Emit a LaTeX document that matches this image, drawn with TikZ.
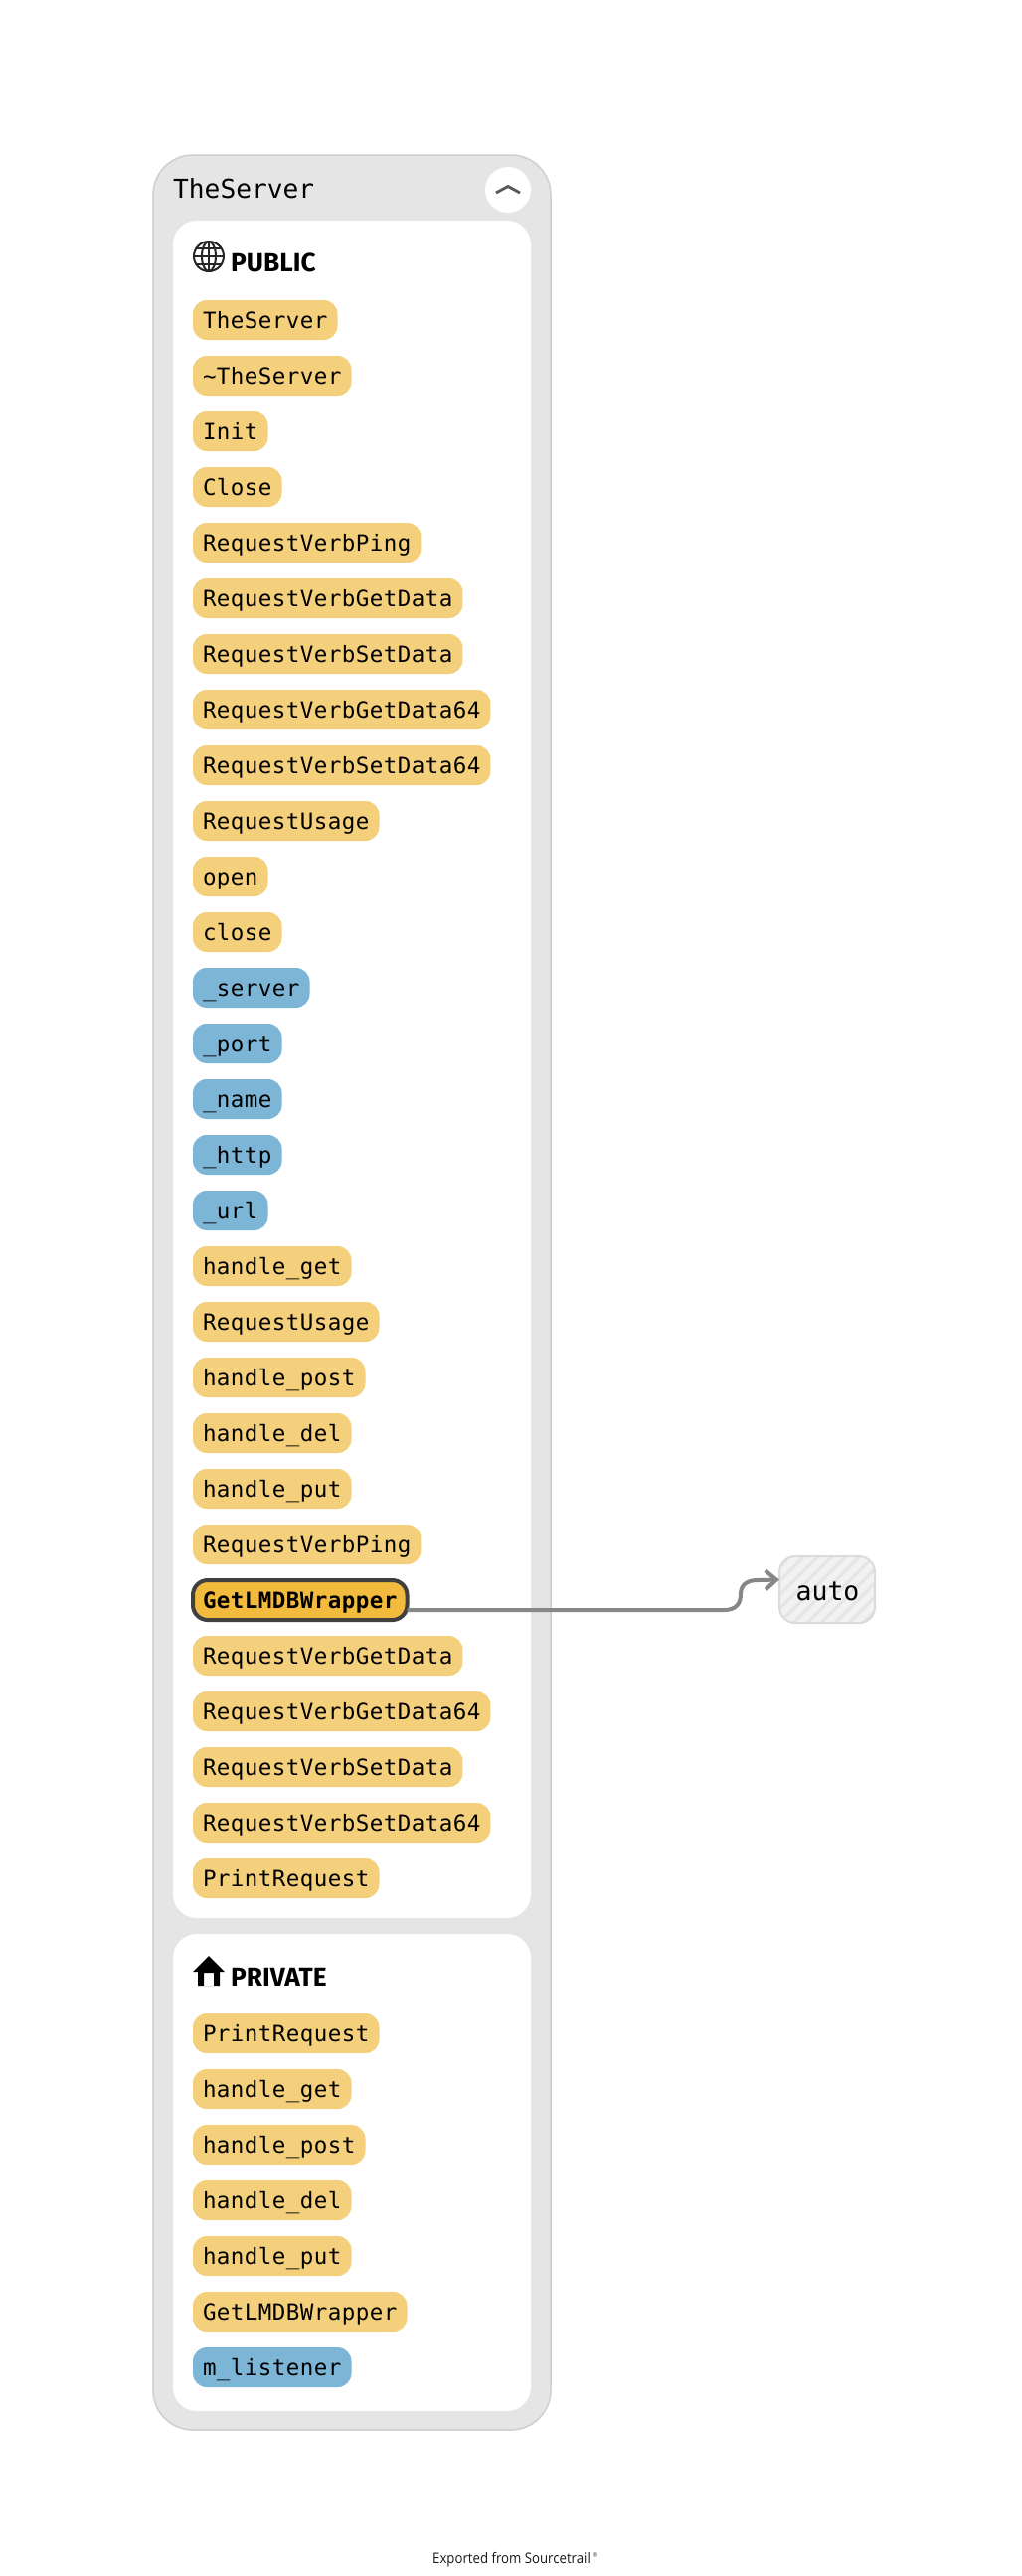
\documentclass[tikz,border=0pt]{standalone}
\usepackage{fontspec}
\usetikzlibrary{arrows.meta}
\setmainfont{Liberation Sans}
\newfontfamily\headfont{Fira Sans}[UprightFont=* Bold]
\newfontfamily\exportfont{Open Sans}[FakeStretch=0.905]
\newfontfamily\regfont{DejaVu Sans}
\newfontfamily\codefont{DejaVu Sans Mono}[LetterSpace=2]
\newfontfamily\codeboldfont{DejaVu Sans Mono}[UprightFont=* Bold,LetterSpace=2]
\newfontfamily\largecodefont{DejaVu Sans Mono}
\definecolor{fnc}{HTML}{F4D07C}
\definecolor{varc}{HTML}{7CB5D6}
\definecolor{selc}{HTML}{F3BB3D}
\definecolor{panel}{HTML}{E5E5E5}
\definecolor{panelb}{HTML}{CFCFCF}
\definecolor{edgec}{HTML}{878787}
\tikzset{
  x=1pt,y=-1pt,
  pillbase/.style={anchor=north west,outer sep=0pt,rounded corners=14pt,inner xsep=10pt,inner ysep=0pt,
    text height=28pt,text depth=12pt,font=\fontsize{22.5}{26}\selectfont\codefont},
  fnpill/.style={pillbase,fill=fnc},
  varpill/.style={pillbase,fill=varc},
  selpill/.style={pillbase,fill=selc,draw=black!75,line width=4pt,rounded corners=15pt,
    font=\fontsize{22.5}{26}\selectfont\codeboldfont},
  heading/.style={anchor=base west,inner sep=0pt,font=\fontsize{26.3}{30}\selectfont\headfont},
  outerbox/.style={fill=panel,draw=panelb,line width=1.5pt,rounded corners=40pt},
  innerbox/.style={fill=white,rounded corners=24pt},
}
\begin{document}
\begin{tikzpicture}
\useasboundingbox (0,0) rectangle (1028,2592);
\fill[white] (0,0) rectangle (1028,2592);
\draw[outerbox] (154,156) rectangle (554,2445);
\fill[innerbox] (174,222) rectangle (534,1930);
\fill[innerbox] (174,1946) rectangle (534,2426);
\node[anchor=base west,inner sep=0pt,font=\fontsize{26.2}{30}\selectfont\largecodefont] (title) at (174,199) {TheServer};
\node[circle,fill=white,minimum size=46pt,inner sep=0pt] (toggle) at (511,191) {};
\draw[line width=2.8pt,black!65] (499,194) -- (511,187.5) -- (523,194);
% globe icon
\begin{scope}[black!85,line width=2pt]
\draw (210,258) circle[radius=15];
\draw (210,258) ellipse[x radius=7,y radius=15];
\draw (195,258) -- (225,258);
\draw (197.5,250) -- (222.5,250);
\draw (197.5,266) -- (222.5,266);
\draw (210,243) -- (210,273);
\end{scope}
\node[heading] (public) at (232,273) {PUBLIC};
% home icon
\fill[black,even odd rule] (210,1968) -- (226,1984) -- (221,1984) -- (221,1998) -- (199,1998) -- (199,1984) -- (194,1984) -- cycle
  (205,1998) rectangle (215,1985);
\node[heading] (private) at (232,1998) {PRIVATE};
% public members
\foreach \lab/\sty [count=\i from 0] in {
  TheServer/fnpill,\textasciitilde TheServer/fnpill,Init/fnpill,Close/fnpill,RequestVerbPing/fnpill,
  RequestVerbGetData/fnpill,RequestVerbSetData/fnpill,RequestVerbGetData64/fnpill,RequestVerbSetData64/fnpill,
  RequestUsage/fnpill,open/fnpill,close/fnpill,\_server/varpill,\_port/varpill,\_name/varpill,\_http/varpill,\_url/varpill,
  handle\_get/fnpill,RequestUsage/fnpill,handle\_post/fnpill,handle\_del/fnpill,handle\_put/fnpill,RequestVerbPing/fnpill,
  GetLMDBWrapper/selpill,RequestVerbGetData/fnpill,RequestVerbGetData64/fnpill,RequestVerbSetData/fnpill,
  RequestVerbSetData64/fnpill,PrintRequest/fnpill}
  {\node[\sty] (pub\i) at (194,{302+56*\i}) {\lab};}
% private members
\foreach \lab/\sty [count=\i from 0] in {
  PrintRequest/fnpill,handle\_get/fnpill,handle\_post/fnpill,handle\_del/fnpill,handle\_put/fnpill,GetLMDBWrapper/fnpill,m\_listener/varpill}
  {\node[\sty] (priv\i) at (194,{2026+56*\i}) {\lab};}
% auto node
\node[anchor=north west,outer sep=0pt,minimum width=96pt,minimum height=67pt,inner sep=0pt,draw=black!14,line width=2pt,rounded corners=16pt,fill=black!5,
  path picture={
    \foreach \k in {-8,...,16}
      {\draw[white!90!black,line width=3pt] ([xshift=\k*14pt]path picture bounding box.south west) -- ++(80pt,80pt);}
  }] (auto) at (784,1566) {};
\node[inner sep=0pt,font=\fontsize{26.5}{30}\selectfont\largecodefont,anchor=base] (autolab) at (832.5,1610) {auto};
% edge
\draw[edgec,line width=4pt,-{Straight Barb[length=11pt,width=19pt,line width=4pt]}]
  ([yshift=-10pt]pub23.east) -- (728,1620) .. controls (740,1620) and (745,1614) .. (745,1604)
  .. controls (745,1595) and (751,1590) .. (762,1590) -- ([yshift=10pt]auto.west);
% footer
\node[anchor=base west,inner sep=0pt,font=\fontsize{14.6}{16}\selectfont\exportfont,text=black!90] (export) at (435,2579) {Exported from Sourcetrail};
\node[anchor=base west,inner sep=0pt,font=\fontsize{7}{8}\selectfont\regfont,text=black!70] (reg) at (595,2573) {®};
\end{tikzpicture}
\end{document}
